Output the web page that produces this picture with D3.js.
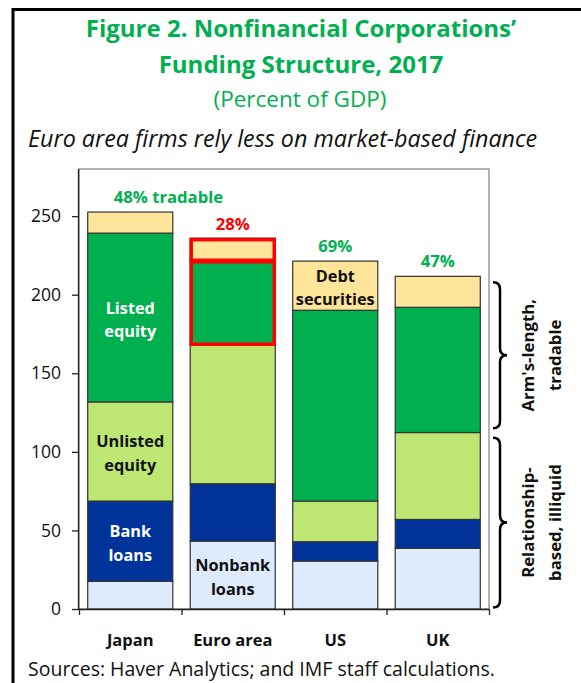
<!DOCTYPE html>
<html>
<head>
<meta charset="utf-8">
<script src="https://cdn.jsdelivr.net/npm/d3@7"></script>
<style>
  body { margin: 0; background: #fff; }
  svg text { font-family: "Open Sans", "Noto Sans", sans-serif; }
</style>
</head>
<body>
<div id="root"></div>
<script>
// values (percent of GDP)
const countries = ["Japan", "Euro area", "US", "UK"];
const nonbankLoans = [17.6, 43.2, 30.5, 38.6];
const bankLoans = [51.1, 36.5, 12.3, 18.4];
const unlistedEquity = [63.1, 88.8, 25.9, 55.3];
const listedEquity = [107.4, 53.4, 121.4, 79.7];
const debtSecurities = [13.4, 14.1, 31.3, 19.7];
const tradableShare = ["48% tradable", "28%", "69%", "47%"];
const yTicks = [0, 50, 100, 150, 200, 250];

// brace ranges on the right, in axis units
const armsLength = [115, 208];
const relationship = [1, 109];

const w = 581;
const h = 683;
const green = "#00B050";

const seriesKeys = ["nonbank", "bank", "unlisted", "listed", "debt"];
const seriesColors = {
    nonbank: "#DEEBFD",
    bank: "#003399",
    unlisted: "#BDE673",
    listed: "#00B04F",
    debt: "#FFE599"
};

const table = countries.map((c, i) => ({
    country: c,
    nonbank: nonbankLoans[i],
    bank: bankLoans[i],
    unlisted: unlistedEquity[i],
    listed: listedEquity[i],
    debt: debtSecurities[i],
    share: tradableShare[i]
}));

const svg = d3.select("#root")
    .append("svg")
    .attr("width", w)
    .attr("height", h);

// frame
svg.append("path")
    .attr("d", `M13,${h} L13,9.5 L${w},9.5`)
    .attr("fill", "none")
    .attr("stroke", "black")
    .attr("stroke-width", 3);

// titles
svg.append("text")
    .attr("x", 301).attr("y", 37)
    .attr("text-anchor", "middle")
    .attr("font-size", 24).attr("font-weight", "bold")
    .attr("fill", green)
    .text("Figure 2. Nonfinancial Corporations’");
svg.append("text")
    .attr("x", 301).attr("y", 73)
    .attr("text-anchor", "middle")
    .attr("font-size", 24).attr("font-weight", "bold")
    .attr("fill", green)
    .text("Funding Structure, 2017");
svg.append("text")
    .attr("x", 300).attr("y", 107)
    .attr("text-anchor", "middle")
    .attr("font-size", 22.5)
    .attr("fill", green)
    .text("(Percent of GDP)");
svg.append("text")
    .attr("x", 28).attr("y", 147)
    .attr("font-size", 23.3).attr("font-style", "italic")
    .attr("fill", "#111")
    .text("Euro area firms rely less on market-based finance");

// scales
const plot = { left: 79, right: 489, top: 169, bottom: 609 };

const x = d3.scaleBand()
    .domain(countries)
    .range([plot.left, plot.right])
    .paddingInner(0.17)
    .paddingOuter(0.085);

const y = d3.scaleLinear()
    .domain([0, 280])
    .range([plot.bottom, plot.top]);

// plot box
svg.append("rect")
    .attr("x", plot.left).attr("y", plot.top)
    .attr("width", plot.right - plot.left)
    .attr("height", plot.bottom - plot.top)
    .attr("fill", "none")
    .attr("stroke", "#7f7f7f")
    .attr("stroke-width", 1.2);

const stack = d3.stack().keys(seriesKeys)(table);

const layers = svg.append("g")
    .selectAll("g")
    .data(stack)
    .enter()
    .append("g")
    .attr("fill", d => seriesColors[d.key]);

layers.selectAll("rect")
    .data(d => d.map(p => Object.assign({ key: d.key }, p)))
    .enter()
    .append("rect")
    .attr("x", d => x(d.data.country))
    .attr("y", d => y(d[1]))
    .attr("width", x.bandwidth())
    .attr("height", d => y(d[0]) - y(d[1]))
    .attr("stroke", "#333")
    .attr("stroke-width", 1.2);

// red highlight around euro area market-based funding
const euro = stack.map(s => s.find(p => p.data.country === "Euro area"));
euro.filter((p, i) => seriesKeys[i] === "listed" || seriesKeys[i] === "debt")
    .forEach(p => {
        svg.append("rect")
            .attr("x", x("Euro area") + 1)
            .attr("y", y(p[1]) + 1.5)
            .attr("width", x.bandwidth() - 2)
            .attr("height", y(p[0]) - y(p[1]) - 1.5)
            .attr("fill", "none")
            .attr("stroke", "#FF0000")
            .attr("stroke-width", 3.5);
    });

// axes
const yAxis = svg.append("g")
    .attr("transform", `translate(${plot.left},0)`)
    .call(d3.axisLeft(y).tickValues(yTicks).tickSize(7).tickPadding(11));
yAxis.select(".domain").attr("stroke", "#222").attr("stroke-width", 1.3)
    .attr("d", `M-0.5,${plot.top}V${plot.bottom}`);
yAxis.selectAll(".tick line").attr("stroke", "#222").attr("stroke-width", 1.3);
yAxis.selectAll(".tick text")
    .attr("font-size", 17.5)
    .attr("fill", "#111")
    .attr("font-family", "Open Sans, Noto Sans, sans-serif");

const bounds = d3.scaleLinear().domain([0, countries.length]).range([plot.left, plot.right]);
const xTicks = svg.append("g")
    .attr("transform", `translate(0,${plot.bottom})`)
    .call(d3.axisBottom(bounds).tickValues(d3.range(countries.length + 1)).tickSize(6).tickFormat(""));
xTicks.select(".domain").attr("stroke", "#222").attr("stroke-width", 1.3)
    .attr("d", `M${plot.left},0.5H${plot.right}`);
xTicks.selectAll(".tick line").attr("stroke", "#222").attr("stroke-width", 1.3);

const xLabels = svg.append("g")
    .attr("transform", `translate(0,${plot.bottom})`)
    .call(d3.axisBottom(x).tickSize(0).tickPadding(25));
xLabels.select(".domain").remove();
xLabels.selectAll(".tick text")
    .attr("font-size", 16.5)
    .attr("font-weight", "bold")
    .attr("fill", "#111")
    .attr("font-family", "Open Sans, Noto Sans, sans-serif");

// share of tradable funding above each bar
svg.append("g")
    .selectAll("text")
    .data(table)
    .enter()
    .append("text")
    .attr("x", (d, i) => i === 0 ? x(d.country) + 26 : x(d.country) + x.bandwidth() / 2)
    .attr("y", d => y(d.nonbank + d.bank + d.unlisted + d.listed + d.debt) - (d.country === "Euro area" ? 8 : 9))
    .attr("text-anchor", (d, i) => i === 0 ? "start" : "middle")
    .attr("font-size", 16.7)
    .attr("font-weight", "bold")
    .attr("fill", d => d.country === "Euro area" ? "#FF0000" : green)
    .text(d => d.share);

// segment labels
const segLabels = [
    { country: "Japan", key: "listed", lines: ["Listed", "equity"], color: "#fff" },
    { country: "Japan", key: "unlisted", lines: ["Unlisted", "equity"], color: "#111" },
    { country: "Japan", key: "bank", lines: ["Bank", "loans"], color: "#fff" },
    { country: "Euro area", key: "nonbank", lines: ["Nonbank", "loans"], color: "#111" },
    { country: "US", key: "debt", lines: ["Debt", "securities"], color: "#111" }
];
segLabels.forEach(l => {
    const s = stack[seriesKeys.indexOf(l.key)].find(p => p.data.country === l.country);
    const mid = (y(s[0]) + y(s[1])) / 2;
    const t = svg.append("text")
        .attr("text-anchor", "middle")
        .attr("font-size", 16.3)
        .attr("font-weight", "bold")
        .attr("fill", l.color);
    l.lines.forEach((line, k) => {
        t.append("tspan")
            .attr("x", x(l.country) + x.bandwidth() / 2)
            .attr("y", mid - 4 + k * 23.5)
            .text(line);
    });
});

// braces on the right
const braceX0 = 493, braceX1 = 507;
const bracePath = (top, bottom) => {
    const xm = (braceX0 + braceX1) / 2;
    const mid = (top + bottom) / 2;
    const r = 7;
    return `M${braceX0},${top} Q${xm},${top} ${xm},${top + r} L${xm},${mid - r} ` +
        `Q${xm},${mid} ${braceX1},${mid} Q${xm},${mid} ${xm},${mid + r} ` +
        `L${xm},${bottom - r} Q${xm},${bottom} ${braceX0},${bottom}`;
};
[armsLength, relationship].forEach(r => {
    svg.append("path")
        .attr("d", bracePath(y(r[1]), y(r[0])))
        .attr("fill", "none")
        .attr("stroke", "black")
        .attr("stroke-width", 2.5);
});

const sideLabels = [
    { range: armsLength, lines: ["Arm's-length,", "tradable"] },
    { range: relationship, lines: ["Relationship-", "based, illiquid"] }
];
sideLabels.forEach(s => {
    const cy = (y(s.range[0]) + y(s.range[1])) / 2;
    const t = svg.append("text")
        .attr("transform", `translate(534,${cy}) rotate(-90)`)
        .attr("text-anchor", "middle")
        .attr("font-size", 16.8)
        .attr("font-weight", "bold")
        .attr("fill", "#111");
    s.lines.forEach((line, k) => {
        t.append("tspan").attr("x", 0).attr("y", k * 27).text(line);
    });
});

// source
svg.append("text")
    .attr("x", 28).attr("y", 676)
    .attr("font-size", 19.5)
    .attr("fill", "#111")
    .text("Sources: Haver Analytics; and IMF staff calculations.");
</script>
</body>
</html>
